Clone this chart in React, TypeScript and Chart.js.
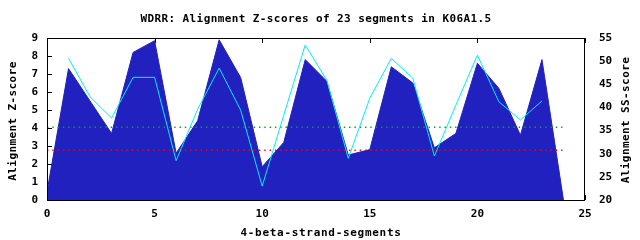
import { useEffect, useRef } from "react";
import { Chart, registerables } from "chart.js";

Chart.register(...registerables);

// ---- data ----
const segments = [0, 1, 2, 3, 4, 5, 6, 7, 8, 9, 10, 11, 12, 13, 14, 15, 16, 17, 18, 19, 20, 21, 22, 23, 24];
const zScores = [0.45, 7.3, 5.5, 3.7, 8.2, 8.85, 2.6, 4.4, 8.9, 6.8, 1.85, 3.2, 7.8, 6.6, 2.5, 2.8, 7.4, 6.5, 2.9, 3.7, 7.6, 6.2, 3.6, 7.8, 0];
const ssSegments = [1, 2, 3, 4, 5, 6, 7, 8, 9, 10, 11, 12, 13, 14, 15, 16, 17, 18, 19, 20, 21, 22, 23];
const ssScores = [50.6, 42.3, 37.7, 46.5, 46.5, 28.5, 39.6, 48.5, 39.4, 23.0, 38.3, 53.5, 45.9, 29.0, 42.0, 50.6, 46.3, 29.5, 40.5, 51.3, 41.2, 37.3, 41.4];
const thresholdX = [0, 24];
const greenLevel = [4.04, 4.04];
const redLevel = [2.76, 2.76];

const titleText = "WDRR: Alignment Z-scores of 23 segments in K06A1.5";
const xTitle = "4-beta-strand-segments";
const yTitle = "Alignment Z-score";
const y2Title = "Alignment SS-score";

const FONT_FAMILY = "'DejaVu Sans Mono', 'Liberation Mono', monospace";

const decor = {
  id: "decor",
  beforeDatasetsDraw(chart: any) {
    const { ctx, chartArea: a, scales } = chart;
    ctx.save();
    ctx.strokeStyle = "#000";
    ctx.lineWidth = 1;
    ctx.beginPath();
    scales.x.ticks.forEach((t: any) => {
      const px = Math.round(scales.x.getPixelForValue(t.value)) + 0.5;
      ctx.moveTo(px, a.top);
      ctx.lineTo(px, a.top + 5);
      ctx.moveTo(px, a.bottom);
      ctx.lineTo(px, a.bottom - 5);
    });
    scales.y.ticks.forEach((t: any) => {
      const py = Math.round(scales.y.getPixelForValue(t.value)) + 0.5;
      ctx.moveTo(a.left, py);
      ctx.lineTo(a.left + 5, py);
    });
    ctx.stroke();
    ctx.restore();
  },
  afterDraw(chart: any) {
    const { ctx, chartArea: a } = chart;
    ctx.save();
    ctx.strokeStyle = "#000";
    ctx.lineWidth = 1;
    ctx.strokeRect(Math.round(a.left) + 0.5, Math.round(a.top) + 0.5, Math.round(a.right - a.left) - 1, Math.round(a.bottom - a.top));
    ctx.fillStyle = "#000";
    ctx.font = "bold 11px " + FONT_FAMILY;
    ctx.textAlign = "center";
    ctx.textBaseline = "middle";
    try { (ctx as any).letterSpacing = "0.4px"; } catch (e) {}
    ctx.fillText(titleText, 316, 19.5);
    try { (ctx as any).letterSpacing = "0.7px"; } catch (e) {}
    ctx.fillText(xTitle, 321, 233.5);
    try { (ctx as any).letterSpacing = "0.4px"; } catch (e) {}
    ctx.save();
    ctx.translate(13.5, 121);
    ctx.rotate(-Math.PI / 2);
    ctx.fillText(yTitle, 0, 0);
    ctx.restore();
    ctx.save();
    ctx.translate(626.5, 120);
    ctx.rotate(-Math.PI / 2);
    ctx.fillText(y2Title, 0, 0);
    ctx.restore();
    ctx.restore();
  },
};

export default function App() {
  const ref = useRef<HTMLCanvasElement | null>(null);
  useEffect(() => {
    if (!ref.current) return;
    const tickFont = { family: FONT_FAMILY, size: 11, weight: "bold" as const };
    const chart = new Chart(ref.current, {
      type: "line",
      data: {
        datasets: [
          {
            label: "Z-score",
            data: segments.map((x, i) => ({ x, y: zScores[i] })),
            yAxisID: "y",
            borderColor: "#2121bf",
            backgroundColor: "#2121bf",
            borderWidth: 1,
            fill: "origin",
            pointRadius: 0,
            tension: 0,
            order: 3,
          },
          {
            label: "threshold green",
            data: thresholdX.map((x, i) => ({ x, y: greenLevel[i] })),
            yAxisID: "y",
            borderColor: "#00a800",
            borderWidth: 1.4,
            borderDash: [1.4, 3.9],
            pointRadius: 0,
            fill: false,
            order: 2,
          },
          {
            label: "threshold red",
            data: thresholdX.map((x, i) => ({ x, y: redLevel[i] })),
            yAxisID: "y",
            borderColor: "#ff0000",
            borderWidth: 1.4,
            borderDash: [1.4, 3.9],
            pointRadius: 0,
            fill: false,
            order: 1,
          },
          {
            label: "SS-score",
            data: ssSegments.map((x, i) => ({ x, y: ssScores[i] })),
            yAxisID: "y2",
            borderColor: "#00eeee",
            borderWidth: 1,
            pointRadius: 0,
            fill: false,
            tension: 0,
            order: 0,
          },
        ],
      },
      options: {
        animation: false,
        responsive: false,
        maintainAspectRatio: false,
        devicePixelRatio: 1,
        layout: { padding: { top: 38, left: 0, right: 0, bottom: 0 } },
        plugins: { legend: { display: false }, tooltip: { enabled: false }, title: { display: false } },
        scales: {
          x: {
            type: "linear",
            min: 0,
            max: 25,
            ticks: { stepSize: 5, color: "#000", font: tickFont, padding: 8, maxRotation: 0 },
            grid: { display: false, drawTicks: false },
            border: { display: false },
            afterFit: (s: any) => { s.height = 40; },
          },
          y: {
            type: "linear",
            position: "left",
            min: 0,
            max: 9,
            ticks: { stepSize: 1, color: "#000", font: tickFont, padding: 9 },
            grid: { display: false, drawTicks: false },
            border: { display: false },
            afterFit: (s: any) => { s.width = 47; },
          },
          y2: {
            type: "linear",
            position: "right",
            min: 20,
            max: 55,
            ticks: { stepSize: 5, color: "#000", font: tickFont, padding: 14 },
            grid: { display: false, drawTicks: false },
            border: { display: false },
            afterFit: (s: any) => { s.width = 55; },
          },
        },
      },
      plugins: [decor],
    });
    return () => chart.destroy();
  }, []);
  return (
    <div style={{ position: "absolute", left: 0, top: 0, width: 640, height: 240, background: "#fff" }}>
      <canvas ref={ref} width={640} height={240} style={{ width: 640, height: 240, display: "block" }} />
    </div>
  );
}
